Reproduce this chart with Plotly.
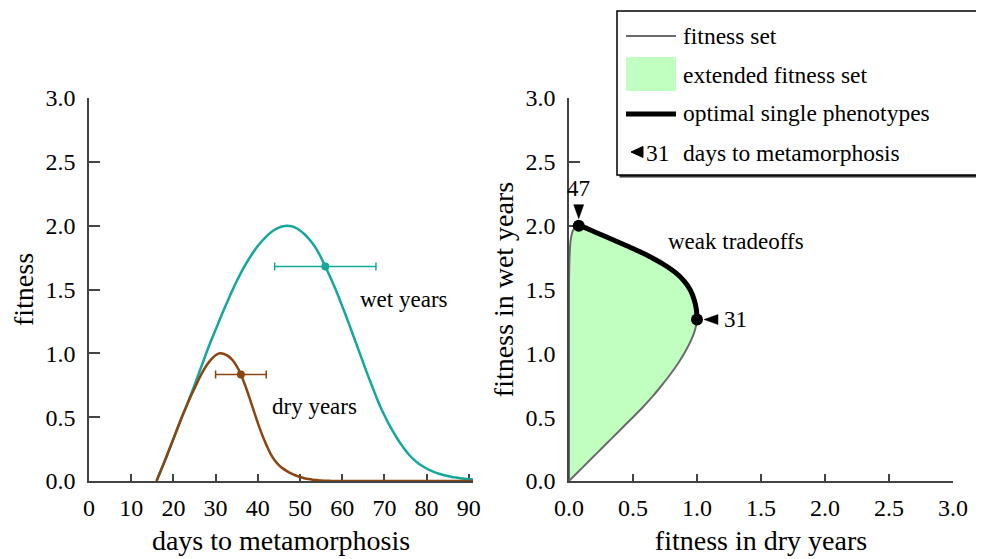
import plotly.graph_objects as go

# ---------------- data ----------------
days = list(range(16, 92))
wet = [0.00, 0.08, 0.16, 0.245, 0.33, 0.415, 0.50, 0.58, 0.665, 0.75,
       0.84, 0.93, 1.02, 1.105, 1.185, 1.265, 1.345, 1.42, 1.495, 1.565,
       1.63, 1.69, 1.745, 1.795, 1.84, 1.88, 1.915, 1.945, 1.968, 1.985,
       1.996, 2.00, 1.995, 1.982, 1.962, 1.935, 1.90, 1.86, 1.81, 1.75,
       1.68, 1.61, 1.535, 1.455, 1.37, 1.285, 1.195, 1.105, 1.015, 0.925,
       0.835, 0.75, 0.665, 0.585, 0.515, 0.45, 0.39, 0.335, 0.285, 0.24,
       0.20, 0.167, 0.14, 0.117, 0.098, 0.082, 0.068, 0.057, 0.047, 0.039,
       0.032, 0.027, 0.022, 0.018, 0.015, 0.012]
dry = [0.00, 0.08, 0.16, 0.245, 0.33, 0.415, 0.50, 0.578, 0.655, 0.725,
       0.795, 0.858, 0.912, 0.955, 0.985, 1.00, 0.995, 0.978, 0.948, 0.90,
       0.835, 0.75, 0.655, 0.555, 0.455, 0.365, 0.285, 0.215, 0.163, 0.125,
       0.097, 0.076, 0.058, 0.043, 0.031, 0.022, 0.015, 0.010, 0.007, 0.004,
       0.002, 0.001] + [0.0] * 34

mean_days = {"wet": 56, "dry": 36}
sd_days = {"wet": 12, "dry": 6}
opt_start, opt_end = 31, 47

day_ticks = list(range(0, 100, 10))
fit_ticks = [0.0, 0.5, 1.0, 1.5, 2.0, 2.5, 3.0]

legend_labels = ["fitness set", "extended fitness set",
                 "optimal single phenotypes", "days to metamorphosis"]

# ---------------- styling ----------------
TEAL = "#14a89c"
BROWN = "#8b4513"
GREEN = "#c0ffc0"
GRAY = "#6b6b6b"
AX = "#444444"
FONT = "Liberation Serif"

BODY = 8                      # default page margin of the html body
W, H = 984 - BODY, 559 - BODY
ML, MR, MT, MB = 89 - BODY, 31, 98 - BODY, 78
PW, PH = W - ML - MR, H - MT - MB


def px(x):   # window pixel -> paper
    return (x - BODY - ML) / PW


def py(y):
    return (H - MB - (y - BODY)) / PH


i31 = days.index(opt_start)
i47 = days.index(opt_end)
xs2 = 384 / 3.0   # px per unit, right panel x
ys = PH / 3.0     # px per unit, y

fig = go.Figure()

# left panel curves
fig.add_trace(go.Scatter(x=days, y=wet, mode="lines", line_shape="spline",
                         line=dict(color=TEAL, width=2.5), xaxis="x", yaxis="y"))
fig.add_trace(go.Scatter(x=days, y=dry, mode="lines", line_shape="spline",
                         line=dict(color=BROWN, width=2.5), xaxis="x", yaxis="y"))
for key, col, series in (("wet", TEAL, wet), ("dry", BROWN, dry)):
    d = mean_days[key]
    fig.add_trace(go.Scatter(
        x=[d], y=[series[days.index(d)]], mode="markers",
        marker=dict(color=col, size=8),
        error_x=dict(type="data", array=[sd_days[key]], color=col,
                     thickness=1.5, width=4),
        xaxis="x", yaxis="y"))

# right panel: fitness set
fig.add_trace(go.Scatter(x=dry, y=wet, mode="lines", fill="toself", line_shape="spline",
                         fillcolor=GREEN, line=dict(color=GRAY, width=2),
                         xaxis="x2", yaxis="y2"))
fig.add_trace(go.Scatter(x=dry[i31:i47 + 1], y=wet[i31:i47 + 1], mode="lines",
                         line_shape="spline", line=dict(color="black", width=5),
                         xaxis="x2", yaxis="y2"))
fig.add_trace(go.Scatter(x=[dry[i31], dry[i47]], y=[wet[i31], wet[i47]],
                         mode="markers", marker=dict(color="black", size=12),
                         xaxis="x2", yaxis="y2"))

tfont = dict(family=FONT, size=24, color="black")
titlefont = dict(family=FONT, size=28, color="black")
axis_common = dict(showline=True, linecolor=AX, linewidth=1.5, ticks="inside",
                   tickcolor=AX, tickwidth=1.5, showgrid=False, zeroline=False,
                   tickfont=tfont, layer="below traces", automargin=False)

fig.update_layout(
    width=W, height=H, showlegend=False,
    margin=dict(l=ML, r=MR, t=MT, b=MB, pad=0, autoexpand=False),
    paper_bgcolor="white", plot_bgcolor="white",
    font=dict(family=FONT, color="black"),
    xaxis=dict(domain=[0, 384 / PW], range=[0, 91], tickvals=day_ticks,
               ticklen=7, anchor="y", ticklabelstandoff=4,
               title=dict(text="days to metamorphosis", font=titlefont, standoff=11),
               **axis_common),
    yaxis=dict(domain=[0, 1], range=[0, 3], tickvals=fit_ticks, tickformat=".1f",
               ticklen=11, anchor="x", ticklabelstandoff=7,
               title=dict(text="fitness", font=titlefont, standoff=6),
               **axis_common),
    xaxis2=dict(domain=[480 / PW, 1], range=[0, 3], tickvals=fit_ticks,
                tickformat=".1f", ticklen=7, anchor="y2", ticklabelstandoff=4,
                title=dict(text="fitness in dry years", font=titlefont, standoff=11),
                **axis_common),
    yaxis2=dict(domain=[0, 1], range=[0, 3], tickvals=fit_ticks, tickformat=".1f",
                ticklen=11, anchor="x2", ticklabelstandoff=7,
                title=dict(text="fitness in wet years", font=titlefont, standoff=4),
                **axis_common),
)

afont = dict(family=FONT, size=23, color="black")
fig.add_annotation(x=74.6, y=1.42, xref="x", yref="y", text="wet years",
                   showarrow=False, font=afont)
fig.add_annotation(x=53.5, y=0.583, xref="x", yref="y", text="dry years",
                   showarrow=False, font=afont)
fig.add_annotation(x=1.305, y=1.874, xref="x2", yref="y2", text="weak tradeoffs",
                   showarrow=False, font=afont)
fig.add_annotation(x=dry[i47], y=wet[i47], xref="x2", yref="y2", text=str(opt_end),
                   showarrow=False, font=afont, yshift=37)
fig.add_annotation(x=dry[i31], y=wet[i31], xref="x2", yref="y2", text=str(opt_start),
                   showarrow=False, font=afont, xshift=38)

shapes = []
# pointer triangles next to the labelled phenotypes (offsets in px -> data units)
d47, w47 = dry[i47], wet[i47]
shapes.append(dict(type="path", xref="x2", yref="y2", layer="above",
                   path="M {:.5f},{:.5f} L {:.5f},{:.5f} L {:.5f},{:.5f} Z".format(
                       d47, w47 + 7 / ys, d47 - 5 / xs2, w47 + 21 / ys,
                       d47 + 5 / xs2, w47 + 21 / ys),
                   fillcolor="black", line=dict(color="black", width=0.5)))
d31, w31 = dry[i31], wet[i31]
shapes.append(dict(type="path", xref="x2", yref="y2", layer="above",
                   path="M {:.5f},{:.5f} L {:.5f},{:.5f} L {:.5f},{:.5f} Z".format(
                       d31 + 7 / xs2, w31, d31 + 21 / xs2, w31 + 5 / ys,
                       d31 + 21 / xs2, w31 - 5 / ys),
                   fillcolor="black", line=dict(color="black", width=0.5)))

# ---------------- manual legend box ----------------
shapes.append(dict(type="rect", xref="paper", yref="paper",
                   x0=px(619.5), x1=px(984), y0=py(177.5), y1=py(13),
                   fillcolor="#333333", line=dict(width=0), layer="above"))
shapes.append(dict(type="rect", xref="paper", yref="paper",
                   x0=px(617), x1=px(982), y0=py(175), y1=py(11),
                   fillcolor="white", line=dict(color="black", width=1.5),
                   layer="above"))
shapes.append(dict(type="line", xref="paper", yref="paper",
                   x0=px(626), x1=px(676), y0=py(36), y1=py(36),
                   line=dict(color=GRAY, width=2), layer="above"))
shapes.append(dict(type="rect", xref="paper", yref="paper",
                   x0=px(626), x1=px(676), y0=py(91), y1=py(57),
                   fillcolor=GREEN, line=dict(width=0), layer="above"))
shapes.append(dict(type="line", xref="paper", yref="paper",
                   x0=px(626), x1=px(676), y0=py(114), y1=py(114),
                   line=dict(color="black", width=5), layer="above"))
tri = "M {:.5f},{:.5f} L {:.5f},{:.5f} L {:.5f},{:.5f} Z".format(
    px(631), py(152), px(643), py(146.5), px(643), py(157.5))
shapes.append(dict(type="path", xref="paper", yref="paper", path=tri,
                   fillcolor="black", line=dict(color="black", width=1),
                   layer="above"))
fig.update_layout(shapes=shapes)

lfont = dict(family=FONT, size=23.5, color="black")
for lab, yy in zip(legend_labels, [36, 75, 113, 153]):
    fig.add_annotation(x=px(681), y=py(yy), xref="paper", yref="paper", text=lab,
                       showarrow=False, xanchor="left", yanchor="middle", font=lfont)
fig.add_annotation(x=px(658), y=py(153), xref="paper", yref="paper",
                   text=str(opt_start), showarrow=False, xanchor="center",
                   yanchor="middle", font=lfont)

fig.write_html("out.html")
